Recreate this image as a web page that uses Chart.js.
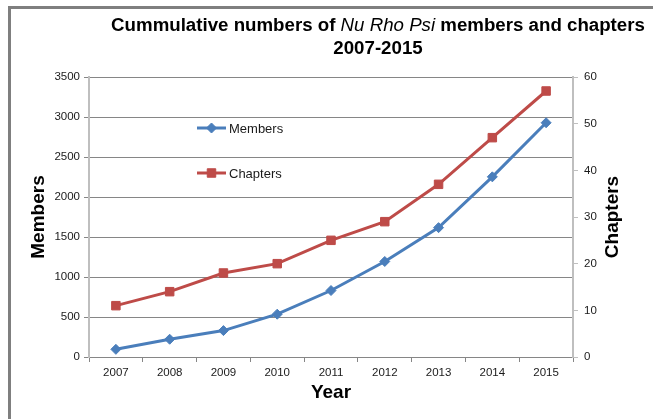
<!DOCTYPE html>
<html>
<head>
<meta charset="utf-8">
<script src="https://cdn.jsdelivr.net/npm/chart.js@4.4.1/dist/chart.umd.min.js"></script>
<style>
  html, body { margin: 0; padding: 0; background: #ffffff; }
  #wrap { position: relative; width: 653px; height: 419px; }
  canvas { display: block; }
</style>
</head>
<body>
<div id="wrap"><canvas id="c" width="653" height="419"></canvas></div>
<script>
const years = ['2007', '2008', '2009', '2010', '2011', '2012', '2013', '2014', '2015'];
const members = [96, 222, 330, 535, 831, 1194, 1617, 2252, 2928];
const chapters = [11, 14, 18, 20, 25, 29, 37, 47, 57];
const membersTicks = [0, 500, 1000, 1500, 2000, 2500, 3000, 3500];
const chaptersTicks = [0, 10, 20, 30, 40, 50, 60];
const titleParts = [
  { text: 'Cummulative numbers of ', italic: false },
  { text: 'Nu Rho Psi', italic: true },
  { text: ' members and chapters', italic: false }
];
const titleLine2 = '2007-2015';
const yTitleLeft = 'Members';
const yTitleRight = 'Chapters';
const xTitle = 'Year';

const FONT = "'Liberation Sans', Arial, sans-serif";
const BLUE = '#4A7EBB';
const RED = '#BE4B48';
const GRID = '#868686';
const AXIS = '#BFBFBF';
const TXT = '#1a1a1a';

const framePlugin = {
  id: 'frame',
  beforeDraw(chart) {
    const ctx = chart.ctx;
    ctx.save();
    ctx.fillStyle = '#7f7f7f';
    ctx.fillRect(8, 6, 3, chart.height);
    ctx.fillRect(8, 6, chart.width, 3);
    ctx.restore();
  }
};

const titlePlugin = {
  id: 'mixedTitle',
  afterDraw(chart) {
    const ctx = chart.ctx;
    const size = 18.7;
    const cx = 378;
    ctx.save();
    ctx.fillStyle = '#000';
    ctx.textBaseline = 'alphabetic';
    ctx.textAlign = 'left';
    const fonts = titleParts.map(p => (p.italic ? 'italic ' : 'bold ') + size + 'px ' + FONT);
    let total = 0;
    const widths = titleParts.map((p, i) => { ctx.font = fonts[i]; const w = ctx.measureText(p.text).width; total += w; return w; });
    let x = cx - total / 2;
    titleParts.forEach((p, i) => { ctx.font = fonts[i]; ctx.fillText(p.text, x, 31); x += widths[i]; });
    ctx.font = 'bold ' + size + 'px ' + FONT;
    ctx.textAlign = 'center';
    ctx.fillText(titleLine2, cx, 54);
    // right axis title, reading bottom-to-top
    const ca = chart.chartArea;
    ctx.translate(613, (ca.top + ca.bottom) / 2);
    ctx.rotate(-Math.PI / 2);
    ctx.font = 'bold 19px ' + FONT;
    ctx.textBaseline = 'middle';
    ctx.fillText(yTitleRight, 0, 0);
    ctx.restore();
  }
};

function drawMarker(ctx, style, x, y, r, color) {
  ctx.fillStyle = color;
  ctx.strokeStyle = color;
  ctx.lineWidth = 1;
  ctx.beginPath();
  if (style === 'rectRot') {
    ctx.moveTo(x, y - r); ctx.lineTo(x + r, y); ctx.lineTo(x, y + r); ctx.lineTo(x - r, y); ctx.closePath();
  } else {
    const s = r * Math.SQRT1_2;
    ctx.rect(x - s, y - s, 2 * s, 2 * s);
  }
  ctx.fill(); ctx.stroke();
}

const legendPlugin = {
  id: 'innerLegend',
  afterDatasetsDraw(chart) {
    const ctx = chart.ctx;
    const ca = chart.chartArea;
    const rows = [ca.top + 51, ca.top + 96];
    ctx.save();
    chart.data.datasets.forEach((ds, i) => {
      const y = rows[i];
      const x0 = ca.left + 108, x1 = ca.left + 137;
      ctx.strokeStyle = ds.borderColor;
      ctx.lineWidth = 3;
      ctx.beginPath(); ctx.moveTo(x0, y); ctx.lineTo(x1, y); ctx.stroke();
      drawMarker(ctx, ds.pointStyle, (x0 + x1) / 2, y, ds.pointRadius, ds.borderColor);
      ctx.fillStyle = TXT;
      ctx.font = '13px ' + FONT;
      ctx.textAlign = 'left';
      ctx.textBaseline = 'middle';
      ctx.fillText(ds.label, x1 + 3, y + 1);
    });
    ctx.restore();
  }
};

new Chart(document.getElementById('c'), {
  type: 'line',
  data: {
    labels: years,
    datasets: [
      {
        label: 'Members', data: members, yAxisID: 'y',
        borderColor: BLUE, backgroundColor: BLUE, borderWidth: 3,
        pointStyle: 'rectRot', pointRadius: 5, pointBorderWidth: 1,
        pointBackgroundColor: BLUE, pointBorderColor: BLUE, tension: 0
      },
      {
        label: 'Chapters', data: chapters, yAxisID: 'y1',
        borderColor: RED, backgroundColor: RED, borderWidth: 3,
        pointStyle: 'rect', pointRadius: 6, pointBorderWidth: 1,
        pointBackgroundColor: RED, pointBorderColor: RED, tension: 0
      }
    ]
  },
  options: {
    responsive: false,
    animation: false,
    layout: { padding: { top: 77, left: 0, right: 0, bottom: 0 } },
    plugins: { legend: { display: false }, title: { display: false }, tooltip: { enabled: false } },
    scales: {
      x: {
        offset: true,
        grid: { offset: true, drawOnChartArea: false, drawTicks: true, tickLength: 5, color: GRID },
        border: { color: GRID, width: 1 },
        ticks: { font: { family: FONT, size: 11.5 }, color: TXT, padding: 4, maxRotation: 0 },
        title: { display: true, text: xTitle, color: '#000', font: { family: FONT, size: 19, weight: 'bold' }, padding: { top: 0, bottom: 15 } },
        afterFit(s) { s.height = 62; }
      },
      y: {
        position: 'left', min: 0, max: 3500,
        afterBuildTicks(s) { s.ticks = membersTicks.map(v => ({ value: v })); },
        grid: { color: GRID, tickLength: 5 },
        border: { color: AXIS, width: 2 },
        ticks: { font: { family: FONT, size: 11.5 }, color: TXT, padding: 4, callback: v => String(v) },
        title: { display: true, text: yTitleLeft, color: '#000', font: { family: FONT, size: 19, weight: 'bold' }, padding: { top: 27, bottom: 0 } },
        afterFit(s) { s.width = 89; }
      },
      y1: {
        position: 'right', min: 0, max: 60,
        afterBuildTicks(s) { s.ticks = chaptersTicks.map(v => ({ value: v })); },
        grid: { drawOnChartArea: false, color: AXIS, tickLength: 5 },
        border: { color: AXIS, width: 2 },
        ticks: { font: { family: FONT, size: 11.5 }, color: TXT, padding: 6, callback: v => String(v) },
        title: { display: false },
        afterFit(s) { s.width = 80; }
      }
    }
  },
  plugins: [framePlugin, titlePlugin, legendPlugin]
});
</script>
</body>
</html>
